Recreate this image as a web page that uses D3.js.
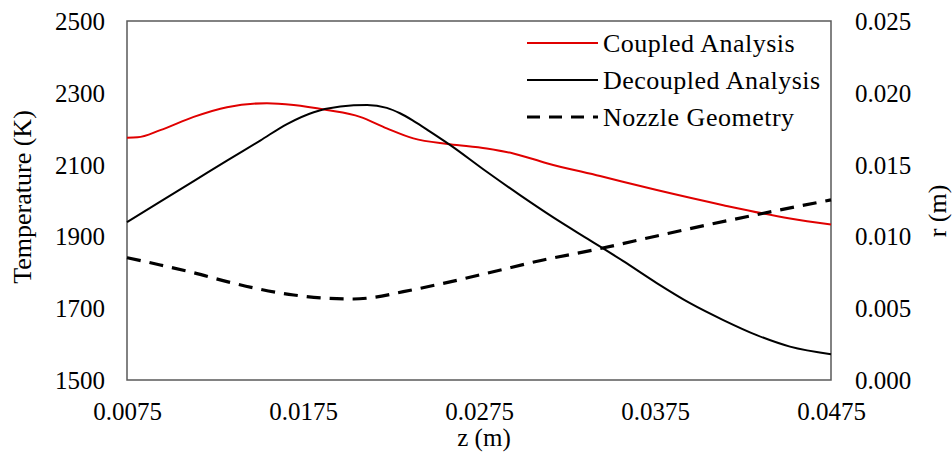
<!DOCTYPE html>
<html>
<head>
<meta charset="utf-8">
<script src="https://cdn.jsdelivr.net/npm/d3@7"></script>
<style>
  html, body { margin: 0; padding: 0; background: #fff; }
  svg { display: block; }
  text { font-family: "Liberation Serif", "Times New Roman", serif; fill: #000; }
</style>
</head>
<body>
<svg id="chart" width="952" height="455"></svg>
<script>
// ---- data ----
const zTicks = [0.0075, 0.0175, 0.0275, 0.0375, 0.0475];
const tTicks = [1500, 1700, 1900, 2100, 2300, 2500];
const rTicks = [0.000, 0.005, 0.010, 0.015, 0.020, 0.025];

const zCoupled = [0.0075, 0.0081, 0.00939, 0.01129, 0.01318, 0.01545, 0.01697, 0.01886, 0.02074, 0.02226, 0.02377, 0.02585, 0.02794, 0.02945, 0.03135, 0.03438, 0.0376, 0.04138, 0.04517, 0.0475];
const tCoupled = [2175, 2176, 2196, 2233, 2260, 2271, 2266, 2252, 2233, 2201, 2173, 2157, 2145, 2131, 2104, 2068, 2029, 1987, 1950, 1933];

const zDecoupled = [0.0075, 0.00939, 0.01129, 0.01318, 0.01507, 0.01659, 0.01811, 0.01962, 0.02114, 0.02226, 0.02301, 0.02377, 0.02472, 0.02585, 0.02794, 0.02983, 0.03172, 0.03381, 0.0357, 0.0376, 0.03949, 0.04138, 0.04328, 0.04517, 0.0475];
const tDecoupled = [1940, 1997, 2054, 2111, 2167, 2213, 2246, 2262, 2266, 2258, 2243, 2222, 2192, 2155, 2080, 2015, 1953, 1889, 1831, 1770, 1714, 1667, 1625, 1593, 1572];

const zNozzle = [0.0075, 0.00939, 0.01129, 0.01318, 0.01507, 0.01697, 0.01886, 0.02038, 0.02131, 0.0232, 0.02547, 0.02831, 0.03115, 0.03399, 0.0376, 0.04044, 0.04366, 0.0475];
const rNozzle = [0.00852, 0.00801, 0.00747, 0.00685, 0.00632, 0.00592, 0.00569, 0.00564, 0.00572, 0.00615, 0.00673, 0.00754, 0.00836, 0.00905, 0.01003, 0.01079, 0.01161, 0.01254];

const seriesNames = ["Coupled Analysis", "Decoupled Analysis", "Nozzle Geometry"];

// ---- layout ----
const L = 127, T = 21, W = 704, H = 359;
const svg = d3.select("#chart");
const g = svg.append("g").attr("transform", `translate(${L},${T})`);

const x = d3.scaleLinear().domain([0.0075, 0.0475]).range([0, W]);
const yL = d3.scaleLinear().domain([1500, 2500]).range([H, 0]);
const yR = d3.scaleLinear().domain([0, 0.025]).range([H, 0]);

const FS = 25;

// axes (no tick marks, labels only)
const axL = g.append("g").call(d3.axisLeft(yL).tickValues(tTicks).tickSize(0).tickPadding(22).tickFormat(d3.format("d")));
const axR = g.append("g").attr("transform", `translate(${W},0)`)
  .call(d3.axisRight(yR).tickValues(rTicks).tickSize(0).tickPadding(24).tickFormat(d3.format(".3f")));
const axB = g.append("g").attr("transform", `translate(0,${H})`)
  .call(d3.axisBottom(x).tickValues(zTicks).tickSize(0).tickPadding(23).tickFormat(d3.format(".4f")));
[axL, axR, axB].forEach(a => {
  a.select(".domain").remove();
  a.selectAll("text").attr("font-size", FS).attr("font-family", "Liberation Serif, Times New Roman, serif").attr("fill", "#000");
});
axL.selectAll("text").attr("dy", "0.34em");
axR.selectAll("text").attr("dy", "0.34em");
axB.selectAll("text").attr("dy", "0.68em");

// frame
g.append("rect").attr("x", 0).attr("y", 0).attr("width", W).attr("height", H)
  .attr("fill", "none").attr("stroke", "#595959").attr("stroke-width", 1.5);

// lines
const lineT = d3.line().curve(d3.curveMonotoneX);
g.append("path")
  .attr("d", lineT(zCoupled.map((z, i) => [x(z), yL(tCoupled[i])])))
  .attr("fill", "none").attr("stroke", "#e00000").attr("stroke-width", 2);
g.append("path")
  .attr("d", lineT(zDecoupled.map((z, i) => [x(z), yL(tDecoupled[i])])))
  .attr("fill", "none").attr("stroke", "#000").attr("stroke-width", 2);
g.append("path")
  .attr("d", lineT(zNozzle.map((z, i) => [x(z), yR(rNozzle[i])])))
  .attr("fill", "none").attr("stroke", "#000").attr("stroke-width", 3.2)
  .attr("stroke-dasharray", "14,9");

// axis titles
svg.append("text").attr("transform", "translate(31,197) rotate(-90)")
  .attr("text-anchor", "middle").attr("font-size", 26).text("Temperature (K)");
svg.append("text").attr("transform", "translate(946,211) rotate(-90)")
  .attr("text-anchor", "middle").attr("font-size", 26).text("r (m)");
svg.append("text").attr("x", 484).attr("y", 446)
  .attr("text-anchor", "middle").attr("font-size", 25).text("z (m)");

// legend
const legY = [43, 80, 117];
const legStyles = [
  { stroke: "#e00000", w: 2, dash: null },
  { stroke: "#000", w: 2, dash: null },
  { stroke: "#000", w: 3.2, dash: "13,9" }
];
seriesNames.forEach((name, i) => {
  const s = legStyles[i];
  const ln = svg.append("line").attr("x1", 527).attr("x2", 598).attr("y1", legY[i]).attr("y2", legY[i])
    .attr("stroke", s.stroke).attr("stroke-width", s.w);
  if (s.dash) ln.attr("stroke-dasharray", s.dash);
  svg.append("text").attr("x", 603).attr("y", legY[i] + 8.5).attr("font-size", 26)
    .attr("letter-spacing", 0.5).text(name);
});
</script>
</body>
</html>
